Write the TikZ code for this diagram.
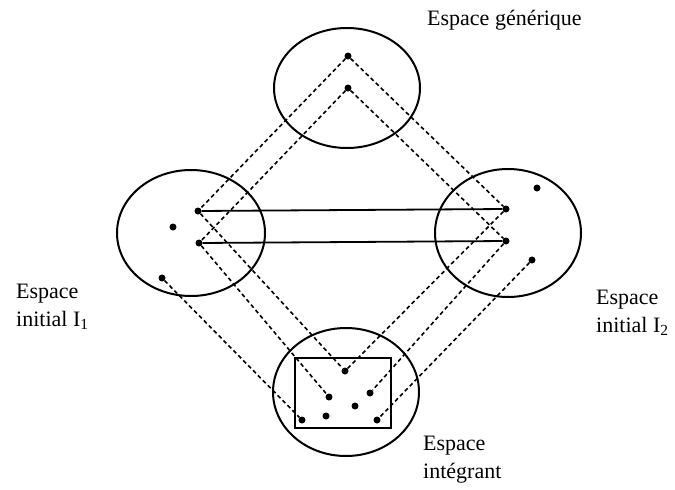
\documentclass[tikz,border=0pt]{standalone}
\usepackage{fontspec}
\setmainfont{Liberation Serif}
\begin{document}
\begin{tikzpicture}[x=1pt,y=-1pt,
  space/.style={draw,line width=2pt},
  pt/.style={circle,fill,inner sep=0pt,minimum size=7pt},
  link/.style={line width=1.6pt,dash pattern=on 4pt off 3pt},
  corr/.style={line width=1.8pt},
  lab/.style={font=\fontsize{22}{28}\selectfont,align=left,inner sep=0pt,anchor=north west}]
\useasboundingbox (0,0) rectangle (675,490);
% spaces
\draw[space] (347,88) ellipse [x radius=73,y radius=60];
\draw[space] (191,233) ellipse [x radius=74,y radius=63];
\draw[space] (508,233) ellipse [x radius=73,y radius=64];
\draw[space] (346,392) ellipse [x radius=73,y radius=64];
\draw[space] (295,358) rectangle (391,428);
% generic points
\node[pt] (g1) at (348,56) {};
\node[pt] (g2) at (348,88) {};
% input 1
\node[pt] (a1) at (198,211) {};
\node[pt] (a2) at (199,243) {};
\node[pt] (a3) at (173,227) {};
\node[pt] (a4) at (162,278) {};
% input 2
\node[pt] (b1) at (506,209) {};
\node[pt] (b2) at (506,241) {};
\node[pt] (b3) at (537,188) {};
\node[pt] (b4) at (532,260) {};
% blend
\node[pt] (c1) at (345,371) {};
\node[pt] (c2) at (329,397) {};
\node[pt] (c3) at (370,393) {};
\node[pt] (c4) at (355,406) {};
\node[pt] (c5) at (302,420) {};
\node[pt] (c6) at (326,416) {};
\node[pt] (c7) at (377,420) {};
% cross-space mapping
\draw[corr] (a1) -- (b1);
\draw[corr] (a2) -- (b2);
% projections
\draw[link] (g1) -- (a1);
\draw[link] (g1) -- (b1);
\draw[link] (g2) -- (a2);
\draw[link] (g2) -- (b2);
\draw[link] (a1) -- (c1);
\draw[link] (b1) -- (c1);
\draw[link] (a2) -- (c2);
\draw[link] (b2) -- (c3);
\draw[link] (a4) -- (c5);
\draw[link] (b4) -- (c7);
% labels
\node[lab] (lg) at (427,10) {Espace générique};
\node[lab] (l1) at (16,284) {Espace\\initial I\textsubscript{1}};
\node[lab] (l2) at (596,290) {Espace\\initial I\textsubscript{2}};
\node[lab] (lb) at (423,436) {Espace\\intégrant};
\end{tikzpicture}
\end{document}
